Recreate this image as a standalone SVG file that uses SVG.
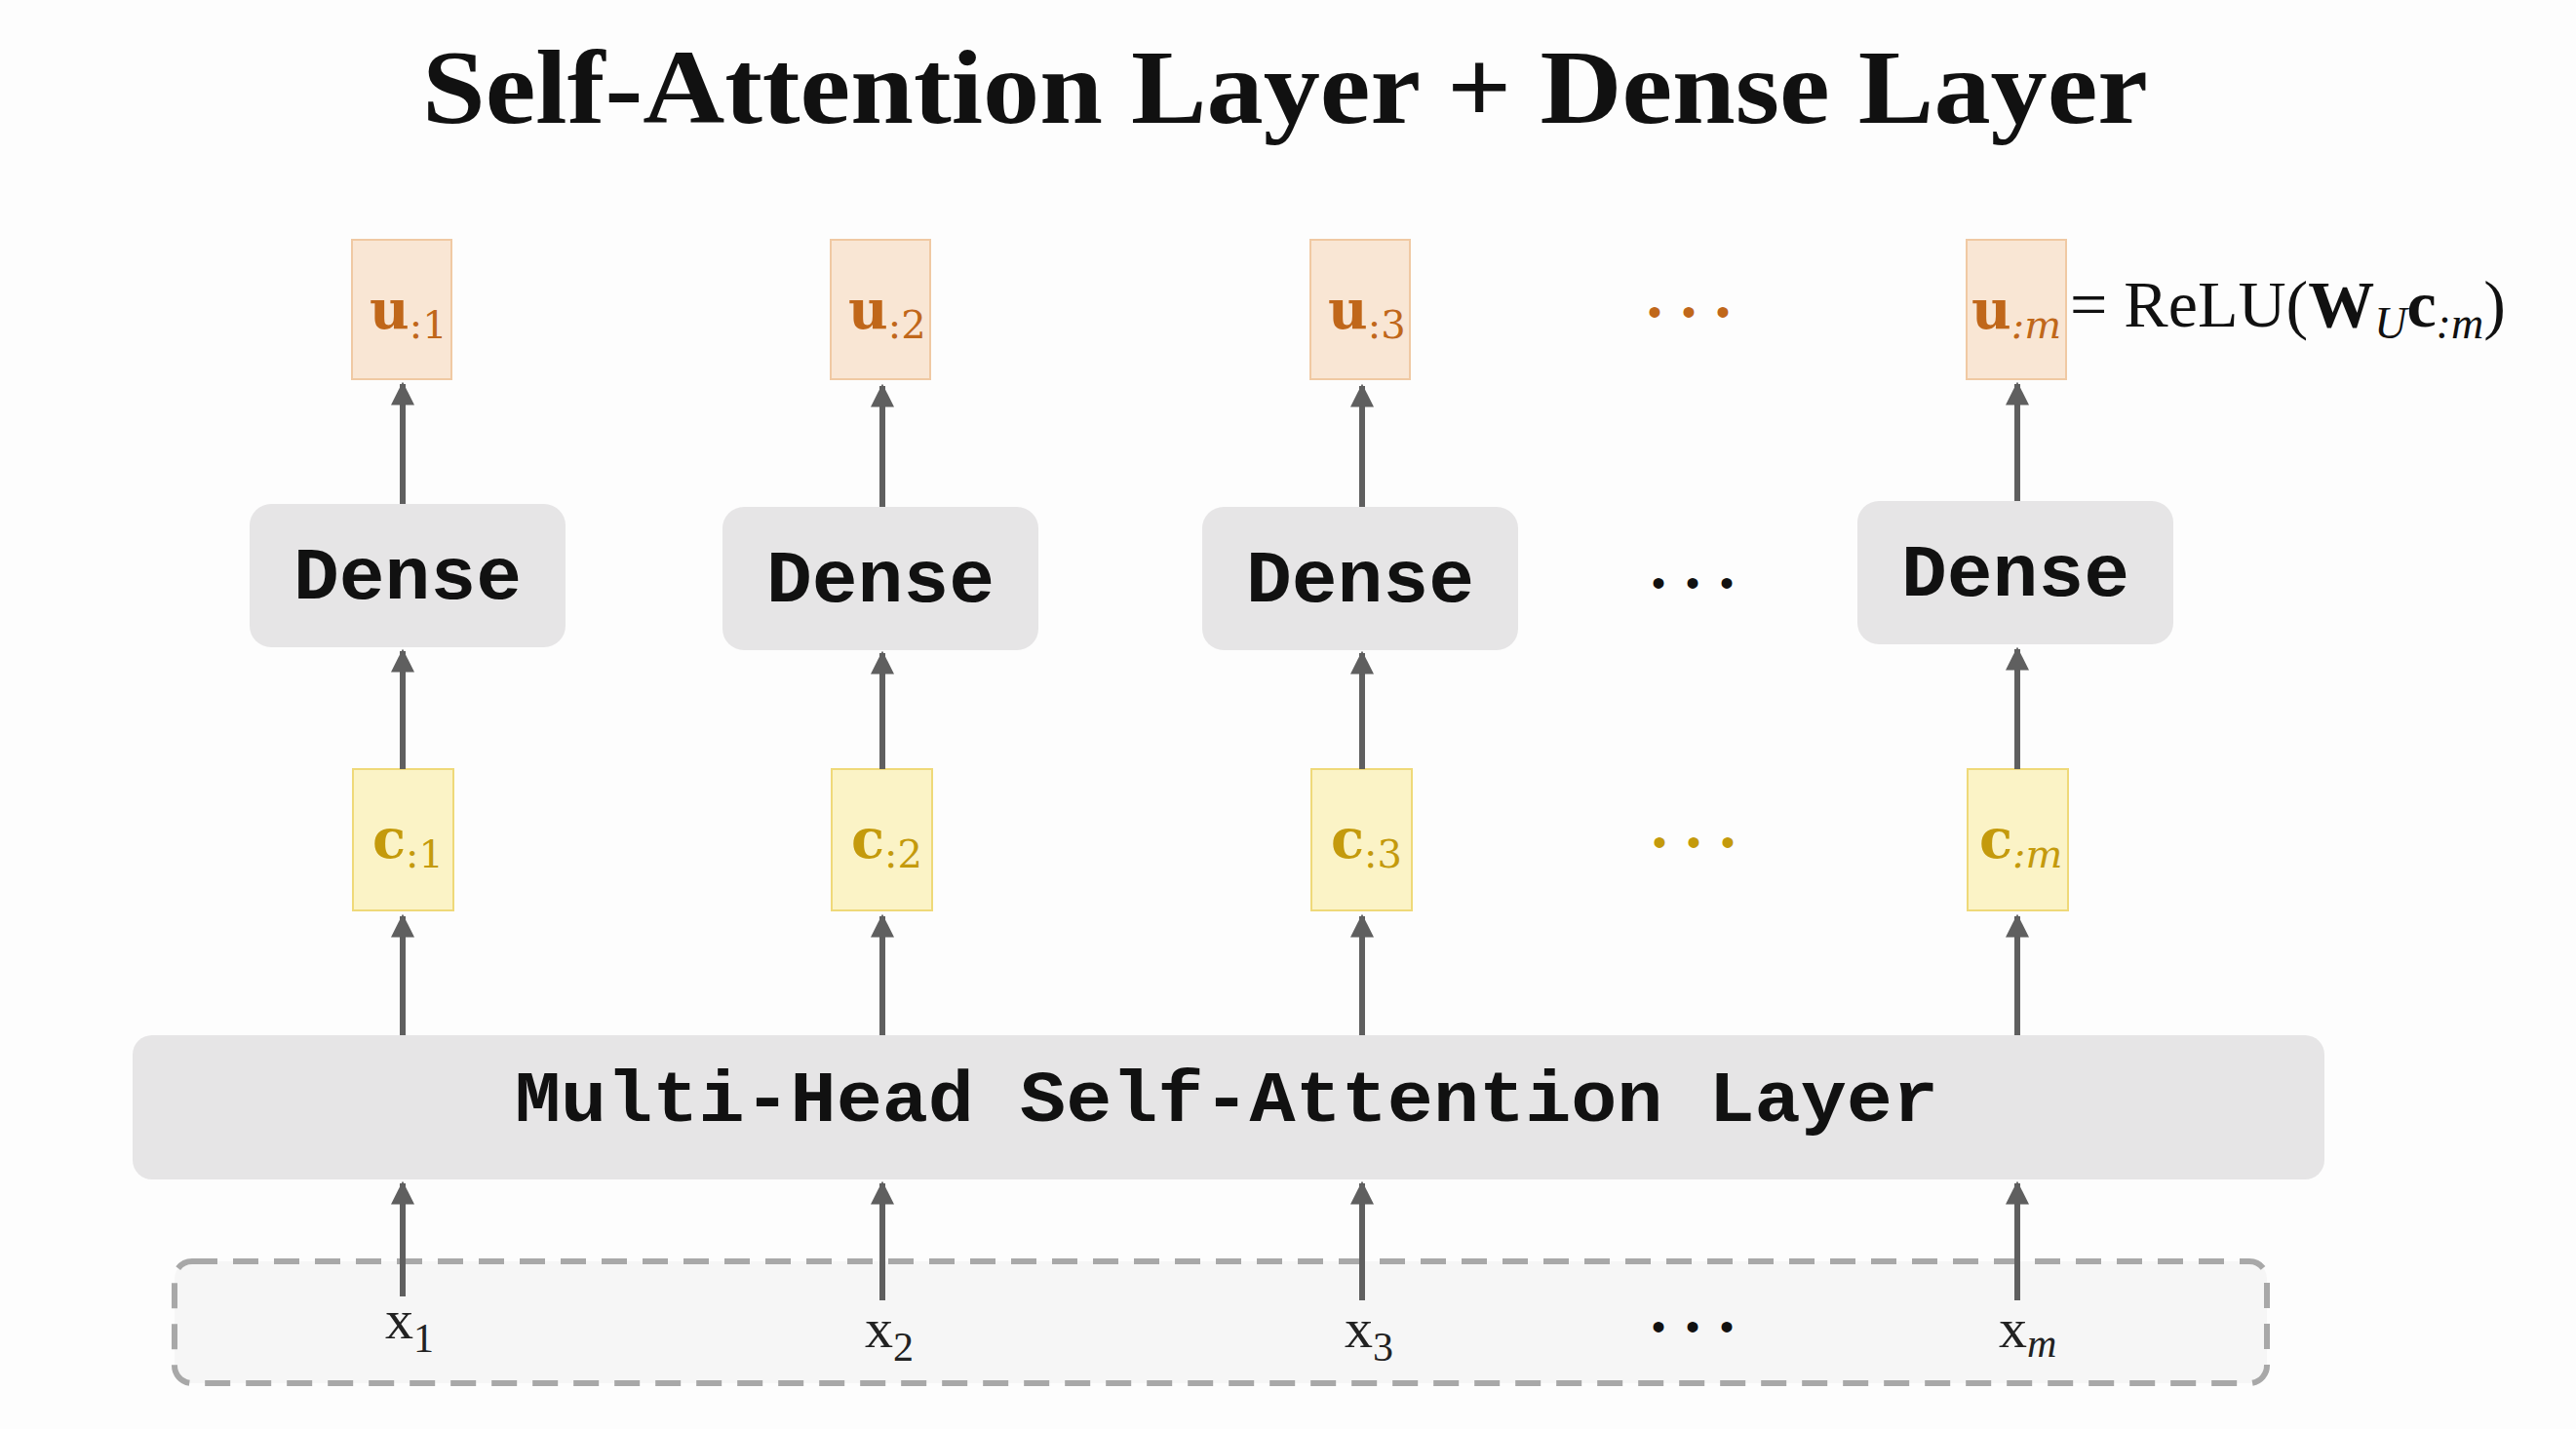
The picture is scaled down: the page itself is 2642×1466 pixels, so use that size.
<svg xmlns="http://www.w3.org/2000/svg" width="2642" height="1466" viewBox="0 0 2642 1466">
<defs>
<marker id="ah" viewBox="0 0 10 10" refX="9" refY="5" markerWidth="4" markerHeight="4" orient="auto"><path d="M0,0 L10,5 L0,10 z" fill="#5f5f5f"/></marker>
<style>
.u{fill:#f9e6d4;stroke:#f0c9a3;stroke-width:2}
.c{fill:#fbf3c6;stroke:#efd979;stroke-width:2}
.g{fill:#e6e5e6}
.mono{font-family:"Liberation Mono",monospace;font-weight:bold;fill:#111}
.ser{font-family:"DejaVu Serif","Liberation Serif",serif}
.ut{fill:#c0671a}
.ct{fill:#c49a0c}
.dot{font-family:"Liberation Sans",sans-serif;font-size:40px}
.ar{stroke:#5f5f5f;stroke-width:6;fill:none;marker-end:url(#ah)}
</style>
</defs>
<rect width="2642" height="1466" fill="#fdfdfd"/>
<text x="433" y="126" textLength="1770" lengthAdjust="spacingAndGlyphs" font-family="Liberation Serif,serif" font-weight="bold" font-size="108" fill="#111">Self-Attention Layer + Dense Layer</text>
<g id="input">
<rect x="179" y="1294" width="2146" height="125" rx="18" fill="#f6f6f6" stroke="#a8a8a8" stroke-width="6" stroke-dasharray="26,16"/>
<text x="395" y="1373" font-family="Liberation Serif,serif" font-size="58" fill="#222">x<tspan font-size="42" dy="14">1</tspan></text>
<text x="887" y="1382" font-family="Liberation Serif,serif" font-size="58" fill="#222">x<tspan font-size="42" dy="14">2</tspan></text>
<text x="1379" y="1382" font-family="Liberation Serif,serif" font-size="58" fill="#222">x<tspan font-size="42" dy="14">3</tspan></text>
<text x="1694" y="1375" textLength="84" class="dot" fill="#111">•••</text>
<text x="2050" y="1382" font-family="Liberation Serif,serif" font-size="58" fill="#222">x<tspan font-size="42" dy="10" font-style="italic">m</tspan></text>
</g>
<g id="mhsa"><rect class="g" x="136" y="1062" width="2248" height="148" rx="20"/>
<text class="mono" x="528" y="1150" textLength="1460" lengthAdjust="spacingAndGlyphs" font-size="74">Multi-Head Self-Attention Layer</text></g>
<g id="cvecs">
<rect class="c" x="362" y="789" width="103" height="145"/><text x="382" y="880" class="ser ct" font-weight="bold" font-size="56">c<tspan font-size="40" font-weight="normal" dy="10">:1</tspan></text>
<rect class="c" x="853" y="789" width="103" height="145"/><text x="873" y="880" class="ser ct" font-weight="bold" font-size="56">c<tspan font-size="40" font-weight="normal" dy="10">:2</tspan></text>
<rect class="c" x="1345" y="789" width="103" height="145"/><text x="1365" y="880" class="ser ct" font-weight="bold" font-size="56">c<tspan font-size="40" font-weight="normal" dy="10">:3</tspan></text>
<text x="1695" y="878" textLength="84" class="dot ct">•••</text>
<rect class="c" x="2018" y="789" width="103" height="145"/><text x="2030" y="880" class="ser ct" font-weight="bold" font-size="56">c<tspan font-size="40" font-weight="normal" font-style="italic" dy="10">:m</tspan></text>
</g>
<g id="dense">
<rect class="g" x="256" y="517" width="324" height="147" rx="22"/><text class="mono" x="418" y="614" text-anchor="middle" textLength="234" lengthAdjust="spacingAndGlyphs" font-size="76">Dense</text>
<rect class="g" x="741" y="520" width="324" height="147" rx="22"/><text class="mono" x="903" y="617" text-anchor="middle" textLength="234" lengthAdjust="spacingAndGlyphs" font-size="76">Dense</text>
<rect class="g" x="1233" y="520" width="324" height="147" rx="22"/><text class="mono" x="1395" y="617" text-anchor="middle" textLength="234" lengthAdjust="spacingAndGlyphs" font-size="76">Dense</text>
<text x="1694" y="612" textLength="84" class="dot" fill="#111">•••</text>
<rect class="g" x="1905" y="514" width="324" height="147" rx="22"/><text class="mono" x="2067" y="611" text-anchor="middle" textLength="234" lengthAdjust="spacingAndGlyphs" font-size="76">Dense</text>
</g>
<g id="uvecs">
<rect class="u" x="361" y="246" width="102" height="143"/><text x="379" y="337" class="ser ut" font-weight="bold" font-size="56">u<tspan font-size="40" font-weight="normal" dy="10">:1</tspan></text>
<rect class="u" x="852" y="246" width="102" height="143"/><text x="870" y="337" class="ser ut" font-weight="bold" font-size="56">u<tspan font-size="40" font-weight="normal" dy="10">:2</tspan></text>
<rect class="u" x="1344" y="246" width="102" height="143"/><text x="1362" y="337" class="ser ut" font-weight="bold" font-size="56">u<tspan font-size="40" font-weight="normal" dy="10">:3</tspan></text>
<text x="1690" y="334" textLength="84" class="dot ut">•••</text>
<rect class="u" x="2017" y="246" width="102" height="143"/><text x="2022" y="337" class="ser ut" font-weight="bold" font-size="56">u<tspan font-size="40" font-weight="normal" font-style="italic" dy="10">:m</tspan></text>
<text x="2123" y="335" font-family="Liberation Serif,serif" font-size="68" fill="#111">= ReLU(<tspan font-weight="bold">W</tspan><tspan font-size="46" font-style="italic" dy="12">U</tspan><tspan font-weight="bold" dy="-12">c</tspan><tspan font-size="46" font-style="italic" dy="12">:m</tspan><tspan dy="-12">)</tspan></text>
</g>
<g id="connectors">
<path class="ar" d="M413,1330 V1214"/><path class="ar" d="M905,1334 V1214"/><path class="ar" d="M1397,1334 V1214"/><path class="ar" d="M2069,1334 V1214"/>
<path class="ar" d="M413,1062 V940"/><path class="ar" d="M905,1062 V940"/><path class="ar" d="M1397,1062 V940"/><path class="ar" d="M2069,1062 V940"/>
<path class="ar" d="M413,789 V668"/><path class="ar" d="M905,789 V670"/><path class="ar" d="M1397,789 V670"/><path class="ar" d="M2069,789 V666"/>
<path class="ar" d="M413,517 V394"/><path class="ar" d="M905,520 V396"/><path class="ar" d="M1397,520 V396"/><path class="ar" d="M2069,514 V394"/>
</g>
</svg>
